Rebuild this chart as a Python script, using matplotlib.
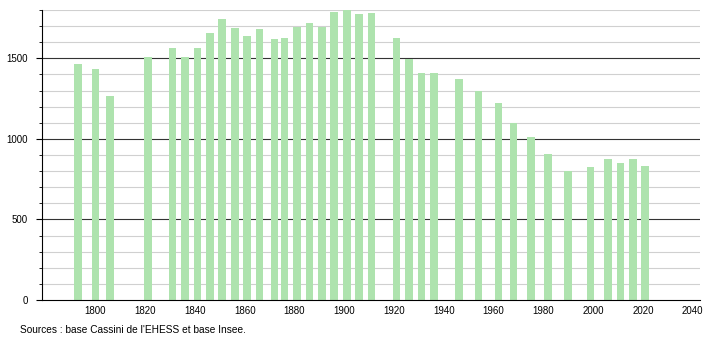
import matplotlib
matplotlib.use("Agg")
import matplotlib.pyplot as plt
from matplotlib.ticker import MultipleLocator

# census years and population
years = [1793, 1800, 1806, 1821, 1831, 1836, 1841, 1846, 1851, 1856,
         1861, 1866, 1872, 1876, 1881, 1886, 1891, 1896, 1901, 1906,
         1911, 1921, 1926, 1931, 1936, 1946, 1954, 1962, 1968, 1975,
         1982, 1990, 1999, 2006, 2011, 2016, 2021]
population = [1463, 1432, 1264, 1511, 1567, 1507, 1563, 1656, 1743, 1686,
              1640, 1679, 1619, 1629, 1696, 1717, 1696, 1785, 1800, 1775,
              1779, 1627, 1494, 1407, 1411, 1370, 1297, 1225, 1096, 1011,
              907, 803, 828, 876, 851, 876, 834]
x_ticks = [1800, 1820, 1840, 1860, 1880, 1900, 1920, 1940, 1960, 1980, 2000, 2020, 2040]
y_ticks = [0, 500, 1000, 1500]

plt.rcParams['font.family'] = ['Liberation Sans', 'DejaVu Sans']

fig = plt.figure(figsize=(7.1, 3.4), dpi=100)
ax = fig.add_axes([0.059, 0.1176, 0.927, 0.853])

# gridlines: light every 100, dark every 500
for v in range(100, 1900, 100):
    if v % 500 == 0:
        ax.axhline(v, color='#333333', linewidth=0.8, zorder=1)
    else:
        ax.axhline(v, color='#d0d0d0', linewidth=0.8, zorder=1)

ax.bar(years, population, width=3.1, color='#aee3ae', zorder=2)

ax.set_xlim(1778.5, 2043)
ax.set_ylim(0, 1800)
ax.set_xticks(x_ticks)
ax.set_yticks(y_ticks)
ax.yaxis.set_minor_locator(MultipleLocator(100))
ax.tick_params(axis='x', length=0, labelsize=7, pad=4)
ax.tick_params(axis='y', which='major', length=4, labelsize=7, pad=6)
ax.tick_params(axis='y', which='minor', length=2)

for s in ['top', 'right']:
    ax.spines[s].set_visible(False)
ax.spines['left'].set_color('black')
ax.spines['bottom'].set_color('black')

fig.text(0.028, 0.02, "Sources : base Cassini de l'EHESS et base Insee.", fontsize=7.3)

fig.savefig('out.png', dpi=100)
